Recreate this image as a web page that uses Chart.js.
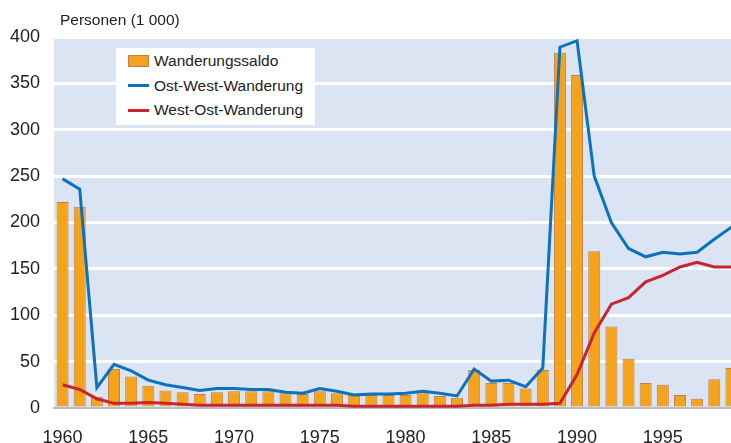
<!DOCTYPE html>
<html>
<head>
<meta charset="utf-8">
<script src="https://cdn.jsdelivr.net/npm/chart.js@4/dist/chart.umd.min.js"></script>
<style>
  body { margin: 0; background: #fff; font-family: 'Liberation Sans', Arial, sans-serif; }
  /* the last year sits on the right edge of the picture, so the canvas is a bit wider and gets cut */
  #wrap { position: relative; width: 731px; height: 443px; overflow: hidden; }
  canvas { display: block; }
  #unit { position: absolute; left: 60px; top: 11px; font-size: 15.5px; color: #222; }
  #legend {
    position: absolute; left: 116px; top: 48px; width: 199px; height: 77px;
    background: #fff; box-sizing: border-box; padding: 1px 0 0 12px; font-size: 15.5px; color: #222;
  }
  .item { display: flex; align-items: center; height: 24.5px; }
  .swatch { width: 21px; margin-right: 5px; }
  .box { height: 12px; background: #f5a31b; border: 1px solid #c0804a; box-sizing: border-box; }
  .line { height: 3px; }
</style>
</head>
<body>
<div id="wrap">
  <canvas id="chart" width="740" height="443"></canvas>
  <div id="unit">Personen (1 000)</div>
  <div id="legend">
    <div class="item"><div class="swatch box"></div>Wanderungssaldo</div>
    <div class="item"><div class="swatch line" style="background:#0b72bb"></div>Ost-West-Wanderung</div>
    <div class="item"><div class="swatch line" style="background:#c9252e"></div>West-Ost-Wanderung</div>
  </div>
</div>
<script>
const years = [];
for (let y = 1960; y <= 1999; y++) years.push(String(y));

// Wanderungssaldo (Balken)
const saldo = [
  222, 217, 12, 42, 34, 24, 19, 17, 15, 17,
  18, 18, 18, 16, 15, 18, 16, 14, 14, 14,
  14, 17, 13, 11, 41, 27, 27, 21, 41, 383,
  359, 169, 88, 53, 27, 25, 14, 10, 31, 43,
];

// Ost-West-Wanderung
const ostWest = [
  247, 236, 22, 47, 40, 30, 25, 22, 19, 21,
  21, 20, 20, 17, 16, 21, 18, 14, 15, 15,
  16, 18, 16, 13, 42, 29, 30, 23, 43, 389,
  396, 250, 200, 172, 163, 168, 166, 168, 182, 195,
];

// West-Ost-Wanderung
const westOst = [
  25, 20, 10, 5, 5, 6, 5, 4, 3, 3,
  3, 3, 3, 3, 3, 3, 3, 2, 2, 2,
  2, 2, 2, 2, 3, 3, 4, 4, 4, 5,
  36, 81, 112, 119, 136, 143, 152, 157, 152, 152,
];

const yTicks = [0, 50, 100, 150, 200, 250, 300, 350, 400];

const plotBackground = {
  id: 'plotBackground',
  beforeDraw(chart) {
    const { ctx, chartArea } = chart;
    ctx.save();
    ctx.fillStyle = '#dae4f3';
    ctx.fillRect(chartArea.left, chartArea.top, chartArea.right - chartArea.left, chartArea.bottom - chartArea.top);
    ctx.restore();
  },
};

const ctx = document.getElementById('chart').getContext('2d');
const myChart = new Chart(ctx, {
  type: 'bar',
  data: {
    labels: years,
    datasets: [
      {
        type: 'line',
        label: 'West-Ost-Wanderung',
        data: westOst,
        borderColor: '#c9252e',
        borderWidth: 3,
        pointRadius: 0,
        tension: 0,
        order: 1,
      },
      {
        type: 'line',
        label: 'Ost-West-Wanderung',
        data: ostWest,
        borderColor: '#0b72bb',
        borderWidth: 3,
        pointRadius: 0,
        tension: 0,
        order: 2,
      },
      {
        label: 'Wanderungssaldo',
        data: saldo,
        backgroundColor: '#f5a31b',
        borderColor: '#c0804a',
        borderWidth: 1,
        barPercentage: 0.7,
        categoryPercentage: 1,
        order: 3,
      },
    ],
  },
  options: {
    responsive: false,
    animation: false,
    layout: { padding: { top: 37, right: 0, left: 0, bottom: 0 } },
    plugins: {
      legend: { display: false },
      tooltip: { enabled: false },
    },
    scales: {
      x: {
        afterFit(scale) {
          scale.height = 35;
          scale.paddingLeft = 0;
          scale.paddingRight = 0;
        },
        grid: { display: false, drawTicks: false },
        border: { color: '#b9bccb', width: 2 },
        ticks: {
          autoSkip: false,
          maxRotation: 0,
          padding: 19,
          color: '#222',
          font: { family: 'Liberation Sans', size: 18 },
          callback(value, index) {
            const year = years[index];
            return Number(year) % 5 === 0 ? year : '';
          },
        },
      },
      y: {
        min: 0,
        max: 400,
        afterFit(scale) { scale.width = 54; },
        afterBuildTicks(scale) { scale.ticks = yTicks.map((v) => ({ value: v })); },
        grid: { color: '#fff', lineWidth: 3, drawTicks: false },
        border: { display: false },
        ticks: {
          padding: 14,
          color: '#222',
          font: { family: 'Liberation Sans', size: 18 },
        },
      },
    },
  },
  plugins: [plotBackground],
});
</script>
</body>
</html>
